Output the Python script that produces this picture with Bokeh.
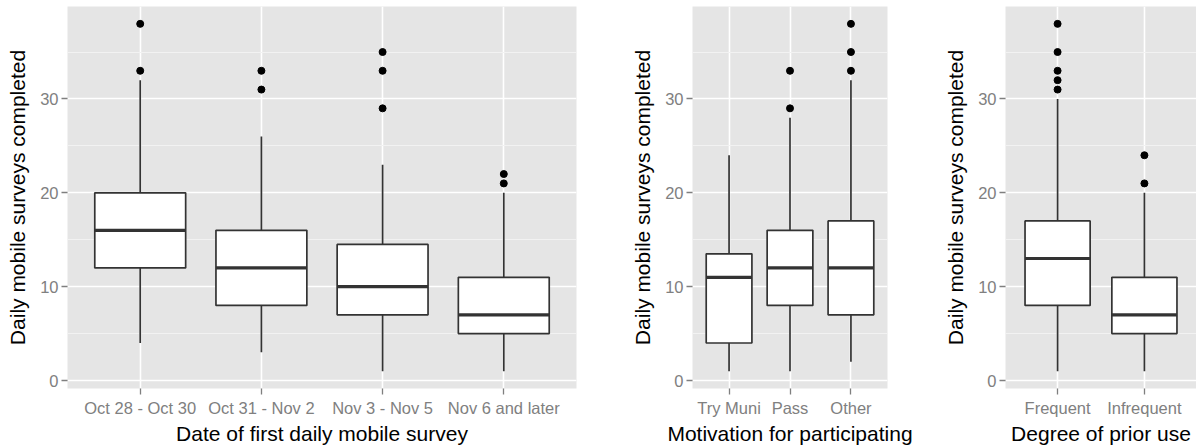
from bokeh.plotting import figure
from bokeh.models import FactorRange, Range1d, FixedTicker, ColumnDataSource
from bokeh.layouts import row
from bokeh.transform import dodge
from bokeh.embed import file_html
from bokeh.resources import INLINE

# Box statistics: lower whisker, Q1, median, Q3, upper whisker, outliers
date_cats = ["Oct 28 - Oct 30", "Oct 31 - Nov 2", "Nov 3 - Nov 5", "Nov 6 and later"]
date_lo = [4, 3, 1, 1]
date_q1 = [12, 8, 7, 5]
date_med = [16, 12, 10, 7]
date_q3 = [20, 16, 14.5, 11]
date_hi = [32, 26, 23, 20]
date_out = [[33, 38], [31, 33], [29, 33, 35], [21, 22]]

motiv_cats = ["Try Muni", "Pass", "Other"]
motiv_lo = [1, 1, 2]
motiv_q1 = [4, 8, 7]
motiv_med = [11, 12, 12]
motiv_q3 = [13.5, 16, 17]
motiv_hi = [24, 28, 32]
motiv_out = [[], [29, 33], [33, 35, 38]]

use_cats = ["Frequent", "Infrequent"]
use_lo = [1, 1]
use_q1 = [8, 5]
use_med = [13, 7]
use_q3 = [17, 11]
use_hi = [30, 20]
use_out = [[31, 32, 33, 35, 38], [21, 24]]

y_ticks = [0, 10, 20, 30]
y_minor = [5, 15, 25, 35]
y_title = "Daily mobile surveys completed"

FONT = "Liberation Sans"
BOX_LINE = "#333333"
BOX_W = 0.75


def panel(cats, lo, q1, med, q3, hi, out, xlabel, left, fw, right):
    p = figure(
        x_range=FactorRange(*cats, range_padding=0.1, range_padding_units="absolute"),
        y_range=Range1d(-0.85, 39.85),
        frame_width=fw, frame_height=382,
        min_border_left=left, min_border_right=right,
        min_border_top=6, min_border_bottom=58,
        output_backend="svg", toolbar_location=None,
        background_fill_color="#E5E5E5", border_fill_color="white",
    )
    p.outline_line_color = None

    # grid
    p.yaxis.ticker = FixedTicker(ticks=y_ticks, minor_ticks=y_minor)
    p.ygrid.grid_line_color = "white"
    p.ygrid.grid_line_width = 1.6
    p.ygrid.minor_grid_line_color = "#F2F2F2"
    p.ygrid.minor_grid_line_width = 1
    p.xgrid.grid_line_color = "white"
    p.xgrid.grid_line_width = 1.6

    # axes
    for ax in (p.xaxis, p.yaxis):
        ax.axis_line_color = None
        ax.major_tick_line_color = "#7F7F7F"
        ax.major_tick_line_width = 1.3
        ax.major_tick_out = 6
        ax.major_tick_in = 0
        ax.minor_tick_line_color = None
        ax.major_label_text_color = "#808080"
        ax.major_label_text_font = FONT
        ax.major_label_text_font_size = "16.5px"
        ax.axis_label_text_font = FONT
        ax.axis_label_text_font_size = "21px"
        ax.axis_label_text_font_style = "normal"
        ax.axis_label_text_color = "black"
    p.xaxis.major_label_standoff = 4
    p.xaxis.axis_label_standoff = 2
    p.yaxis.major_label_standoff = 3
    p.yaxis.axis_label_standoff = 8
    p.xaxis.axis_label = xlabel
    p.yaxis.axis_label = y_title

    src = ColumnDataSource(dict(cat=cats, lo=lo, q1=q1, med=med, q3=q3, hi=hi))
    # whiskers
    p.segment(x0="cat", x1="cat", y0="q3", y1="hi", source=src,
              line_color=BOX_LINE, line_width=1.7)
    p.segment(x0="cat", x1="cat", y0="lo", y1="q1", source=src,
              line_color=BOX_LINE, line_width=1.7)
    # boxes
    p.vbar(x="cat", top="q3", bottom="q1", width=BOX_W, source=src,
           fill_color="white", line_color=BOX_LINE, line_width=1.7)
    # medians
    p.segment(x0=dodge("cat", -BOX_W / 2, range=p.x_range),
              x1=dodge("cat", BOX_W / 2, range=p.x_range),
              y0="med", y1="med", source=src,
              line_color=BOX_LINE, line_width=3.2)
    # outliers
    ox, oy = [], []
    for c, vals in zip(cats, out):
        for v in vals:
            ox.append(c)
            oy.append(v)
    p.scatter(x=ox, y=oy, size=7, fill_color="black", line_color="black")
    return p


p1 = panel(date_cats, date_lo, date_q1, date_med, date_q3, date_hi, date_out,
           "Date of first daily mobile survey", 67, 509, 20)
p2 = panel(motiv_cats, motiv_lo, motiv_q1, motiv_med, motiv_q3, motiv_hi, motiv_out,
           "Motivation for participating", 96, 195, 34)
p3 = panel(use_cats, use_lo, use_q1, use_med, use_q3, use_hi, use_out,
           "Degree of prior use", 84, 191, 0)

layout = row(p1, p2, p3, spacing=0)
open("out.html", "w").write(file_html(layout, INLINE))
